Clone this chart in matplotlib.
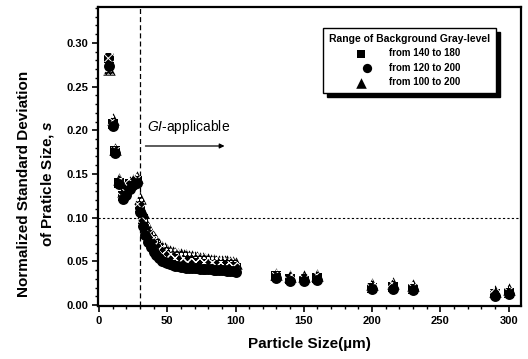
import matplotlib
matplotlib.use("Agg")
import matplotlib.pyplot as plt
from matplotlib.collections import PathCollection
from matplotlib.legend_handler import HandlerPathCollection, HandlerTuple
from matplotlib.ticker import MultipleLocator

plt.rcParams["font.family"] = ["Liberation Sans", "DejaVu Sans"]
plt.rcParams["mathtext.fontset"] = "custom"
plt.rcParams["mathtext.it"] = "Liberation Sans:italic"
plt.rcParams["mathtext.bf"] = "Liberation Sans:bold:italic"
plt.rcParams["mathtext.rm"] = "Liberation Sans"
plt.rcParams["hatch.linewidth"] = 0.7

# particle sizes (um) at which s was measured
sizes = [7.5, 10, 12, 15, 17.5, 20, 22.5, 25, 27.5,
         30, 32, 34, 36, 38, 40, 42, 44, 46, 48, 50, 52, 54, 56, 58, 60,
         62, 64, 66, 68, 70, 72, 74, 76, 78, 80, 82, 84, 86, 88, 90, 92,
         94, 96, 98, 100,
         130, 140, 150, 160, 200, 215, 230, 290, 300]

# normalized standard deviation per background gray-level range
s_140_180 = [0.283, 0.207, 0.176, 0.140, 0.125, 0.132, 0.138, 0.140, 0.142,
             0.112, 0.098, 0.088, 0.080, 0.074, 0.069, 0.066, 0.062, 0.059,
             0.057, 0.055, 0.054, 0.053, 0.052, 0.051, 0.050, 0.050, 0.049,
             0.049, 0.048, 0.048, 0.048, 0.047, 0.047, 0.047, 0.046, 0.046,
             0.046, 0.045, 0.045, 0.045, 0.045, 0.044, 0.044, 0.044, 0.043,
             0.033, 0.030, 0.030, 0.031, 0.020, 0.021, 0.019, 0.013, 0.014]
s_120_200 = [0.274, 0.205, 0.174, 0.138, 0.121, 0.126, 0.133, 0.137, 0.140,
             0.106, 0.090, 0.080, 0.072, 0.066, 0.061, 0.057, 0.054, 0.051,
             0.049, 0.048, 0.047, 0.046, 0.045, 0.045, 0.044, 0.044, 0.043,
             0.043, 0.042, 0.042, 0.042, 0.041, 0.041, 0.041, 0.041, 0.041,
             0.040, 0.040, 0.040, 0.040, 0.040, 0.039, 0.039, 0.039, 0.038,
             0.031, 0.028, 0.028, 0.029, 0.018, 0.019, 0.017, 0.011, 0.013]
s_100_200 = [0.270, 0.213, 0.178, 0.144, 0.130, 0.136, 0.141, 0.143, 0.146,
             0.122, 0.106, 0.096, 0.089, 0.083, 0.078, 0.074, 0.070, 0.067,
             0.065, 0.063, 0.062, 0.061, 0.060, 0.059, 0.058, 0.057, 0.057,
             0.056, 0.056, 0.055, 0.055, 0.054, 0.054, 0.053, 0.053, 0.052,
             0.052, 0.051, 0.051, 0.051, 0.050, 0.050, 0.049, 0.049, 0.048,
             0.036, 0.033, 0.033, 0.034, 0.024, 0.025, 0.023, 0.016, 0.018]

labels = ["from 140 to 180", "from 120 to 200", "from 100 to 200"]
GI_LIMIT = 30
S_LIMIT = 0.10


class HatchedHandler(HandlerPathCollection):
    # legend copies of the markers lose their hatch, so put it back
    def create_artists(self, legend, orig_handle, *args):
        arts = super().create_artists(legend, orig_handle, *args)
        for a in arts:
            a.set_facecolor(orig_handle.get_facecolor())
            a.set_edgecolor(orig_handle.get_edgecolor())
            a.set_hatch(orig_handle.get_hatch())
            a.set_linewidth(0)
        return arts


fig = plt.figure(figsize=(5.28, 3.59), dpi=100)
ax = fig.add_axes([0.1856, 0.1476, 0.801, 0.833])


def speckled(x, y, marker, size, hatch, z):
    # black marker with a white hatch pattern laid over it
    base = ax.scatter(x, y, s=size, marker=marker, color="black",
                      linewidths=0, zorder=z)
    top = ax.scatter(x, y, s=size * 0.8, marker=marker, facecolor="none",
                     edgecolor="white", hatch=hatch, linewidths=0,
                     zorder=z + 0.5)
    return (base, top)


h_tri = speckled(sizes, s_100_200, "^", 80, "oooo", 3)
h_sq = speckled(sizes, s_140_180, "s", 58, "xxxx", 4)
h_dot = ax.scatter(sizes, s_120_200, s=62, marker="o", color="black",
                   linewidths=0, zorder=5)

ax.axvline(GI_LIMIT, color="black", ls=(0, (4, 2.5)), lw=0.9, zorder=2)
ax.axhline(S_LIMIT, color="black", ls=(0, (2, 2)), lw=0.8, zorder=2)

ax.annotate("", xy=(94, 0.182), xytext=(32, 0.182),
            arrowprops=dict(arrowstyle="-|>", color="black", lw=0.9,
                            mutation_scale=7))
ax.text(35, 0.194, r"$\mathit{GI}$-applicable", fontsize=10, va="bottom")

ax.set_xlim(-0.7, 309)
ax.set_ylim(-0.001, 0.341)
ax.xaxis.set_major_locator(MultipleLocator(50))
ax.xaxis.set_minor_locator(MultipleLocator(10))
ax.yaxis.set_major_locator(MultipleLocator(0.05))
ax.yaxis.set_minor_locator(MultipleLocator(0.01))
ax.yaxis.set_major_formatter(plt.FormatStrFormatter("%.2f"))
ax.tick_params(which="major", direction="out", length=4, width=1.2,
               labelsize=8, pad=3)
ax.tick_params(which="minor", direction="out", length=2.5, width=1)
for lbl in ax.get_xticklabels() + ax.get_yticklabels():
    lbl.set_fontweight("bold")
for sp in ax.spines.values():
    sp.set_linewidth(1.6)

ax.set_xlabel("Particle Size(\u00b5m)", fontsize=11, fontweight="bold")
ax.xaxis.set_label_coords(0.5, -0.105)
ax.set_ylabel("Normalized Standard Deviation\nof Praticle Size, $\\mathbf{s}$",
              fontsize=11, fontweight="bold", linespacing=1.6)
ax.yaxis.set_label_coords(-0.10, 0.41)

leg = ax.legend([h_sq, h_dot, h_tri], labels,
                handler_map={tuple: HandlerTuple(ndivide=None),
                             PathCollection: HatchedHandler()},
                title="Range of Background Gray-level",
                loc="upper left", bbox_to_anchor=(0.52, 0.945),
                prop={"size": 7, "weight": "bold"},
                title_fontproperties={"size": 7.5, "weight": "bold"},
                frameon=True, fancybox=False, edgecolor="black",
                shadow={"color": "black", "alpha": 1, "ox": 3, "oy": -3},
                borderpad=0.6, labelspacing=0.45, handletextpad=1.4,
                handlelength=1.8, markerscale=0.85)
leg.get_frame().set_linewidth(1.0)

fig.savefig("out.png", dpi=100)
